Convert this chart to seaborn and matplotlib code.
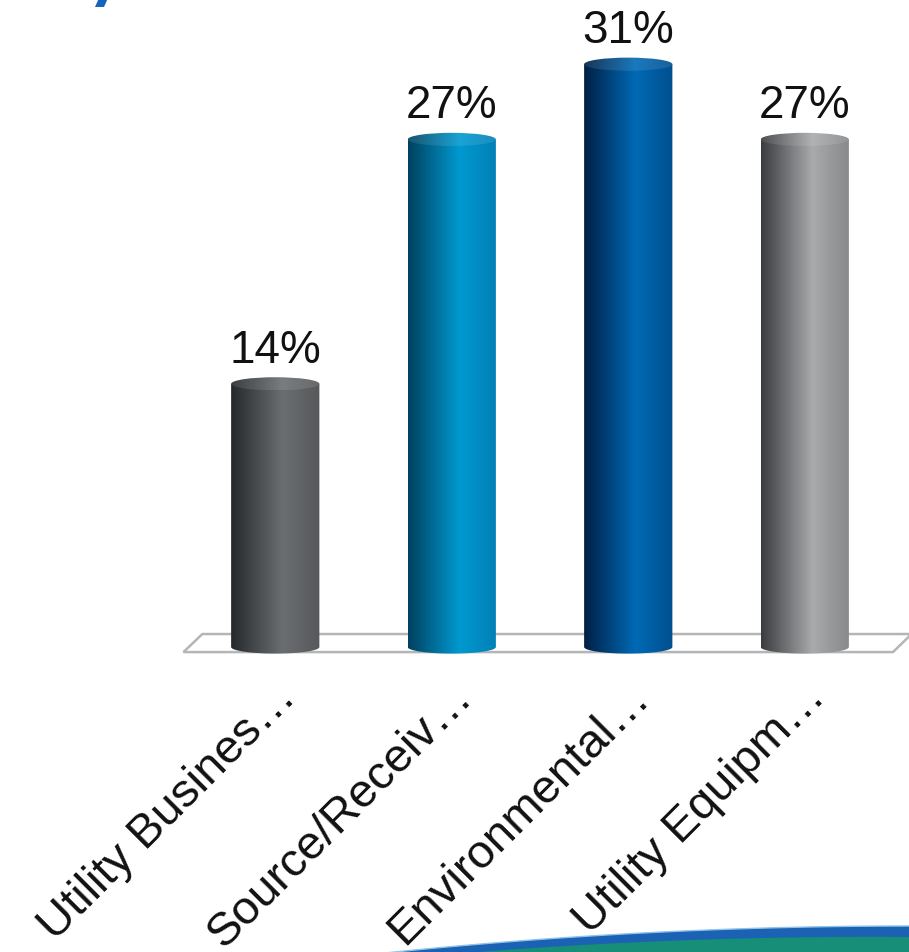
import numpy as np
import pandas as pd
import matplotlib
matplotlib.use("Agg")
import matplotlib.pyplot as plt
import seaborn as sns
from matplotlib.patches import Polygon, Ellipse
from matplotlib.colors import to_rgb
import matplotlib.transforms as mtransforms

categories = ["Utility Busines…", "Source/Receiv…", "Environmental…", "Utility Equipm…"]
shares = [14, 27, 31, 27]

# cylinder shading per bar: shadow edge, highlight, far edge
shadow_colors = ["#26292c", "#00415f", "#001f45", "#3a3c3f"]
highlight_colors = ["#6b6e71", "#0099d0", "#006ab5", "#a8aaac"]
far_colors = ["#56585a", "#0080b6", "#004f8e", "#86888a"]

sns.set_theme(style="white")
plt.rcParams["font.family"] = ["Liberation Sans", "DejaVu Sans"]

W, H = 909, 953
PX_PER_UNIT = 18.8
Y_MIN, Y_MAX = -1.6, 33
base_px = 648  # pixel row of the zero line
ax_bottom_px = base_px - Y_MIN * PX_PER_UNIT
ax_height_px = (Y_MAX - Y_MIN) * PX_PER_UNIT

fig = plt.figure(figsize=(W / 100, H / 100), dpi=100)
fig.patch.set_facecolor("white")
ax = fig.add_axes([187 / W, (H - ax_bottom_px) / H, 706 / W, ax_height_px / H])

df = pd.DataFrame({"category": categories, "share": shares})
sns.barplot(data=df, x="category", y="share", width=0.5, color="#888888", ax=ax)
bars = list(ax.patches)

ax.set_xlabel("")
ax.set_ylabel("")
ax.set_yticks([])
sns.despine(ax=ax, left=True, bottom=True)
ax.set_facecolor("white")

# floor plane under the cylinders
floor = Polygon([(-0.52, -0.27), (3.50, -0.27), (3.605, 0.69), (-0.413, 0.69)],
                closed=True, facecolor="white", edgecolor="#b5b5b5", lw=1.8,
                zorder=1, clip_on=False)
ax.add_patch(floor)

cap_h = 0.35  # half-height of the elliptical ends, in data units


def shade(i, n=200, lighten=0.0):
    t = np.linspace(0, 1, n)
    c0, c1, c2 = (np.array(to_rgb(c)) for c in
                  (shadow_colors[i], highlight_colors[i], far_colors[i]))
    pos = [0.0, 0.58, 1.0]
    rgb = np.stack([np.interp(t, pos, [c0[k], c1[k], c2[k]]) for k in range(3)], axis=1)
    rgb = rgb + (1 - rgb) * lighten
    return rgb[None, :, :]


for i, patch in enumerate(bars):
    x0, w, h = patch.get_x(), patch.get_width(), patch.get_height()
    patch.set_visible(False)
    xc = x0 + w / 2
    theta = np.linspace(np.pi, 2 * np.pi, 80)
    bottom = np.column_stack([xc + w / 2 * np.cos(theta), cap_h * np.sin(theta)])
    verts = np.vstack([[x0, h], bottom, [x0 + w, h]])
    body = Polygon(verts, closed=True, facecolor="none", edgecolor="none", zorder=2)
    ax.add_patch(body)
    img = ax.imshow(shade(i), extent=[x0, x0 + w, -cap_h, h], aspect="auto",
                    origin="lower", interpolation="bilinear", zorder=3)
    img.set_clip_path(body)

    cap = Ellipse((xc, h), w, 2 * cap_h, facecolor="none", edgecolor="none", zorder=4)
    ax.add_patch(cap)
    cimg = ax.imshow(shade(i, lighten=0.10), extent=[x0, x0 + w, h - cap_h, h + cap_h],
                     aspect="auto", origin="lower", interpolation="bilinear", zorder=4)
    cimg.set_clip_path(cap)

    ax.annotate(f"{shares[i]}%", (xc, h), xytext=(0, 16), textcoords="offset points",
                ha="center", va="baseline", fontsize=33, color="#111111",
                annotation_clip=False)

ax.set_xlim(-0.5, 3.5)
ax.set_ylim(Y_MIN, Y_MAX)

ax.tick_params(axis="x", length=0, pad=9, labelsize=34, labelcolor="#111111")
offset = mtransforms.ScaledTranslation(0.14, 0, fig.dpi_scale_trans)
for lab in ax.get_xticklabels():
    lab.set_rotation(45)
    lab.set_ha("right")
    lab.set_va("center")
    lab.set_rotation_mode("anchor")
    lab.set_transform(lab.get_transform() + offset)

# slide footer swoosh
xs = np.linspace(385, 912, 120)
top_blue = 927 + 27 * ((909 - xs) / 524) ** 2
top_green = top_blue + 11 - 4 * ((909 - xs) / 524)
to_fig = lambda px, py: np.column_stack([px / W, 1 - py / H])
blue = np.vstack([to_fig(xs, top_blue), to_fig(np.array([912, 385]), np.array([960, 960]))])
green = np.vstack([to_fig(xs, top_green), to_fig(np.array([912, 385]), np.array([960, 960]))])
fig.patches.append(Polygon(blue, closed=True, facecolor="#1b62b4", edgecolor="#8fc3ea",
                           lw=1.0, transform=fig.transFigure, figure=fig))
fig.patches.append(Polygon(green, closed=True, facecolor="#168e78", edgecolor="none",
                           transform=fig.transFigure, figure=fig))

# remnant of the slide title at the top edge
fig.patches.append(Polygon(to_fig(np.array([95, 104, 108, 99]), np.array([8, 8, -1, -1])),
                           closed=True, facecolor="#1565c0", edgecolor="none",
                           transform=fig.transFigure, figure=fig))

fig.savefig("out.png", dpi=100)
